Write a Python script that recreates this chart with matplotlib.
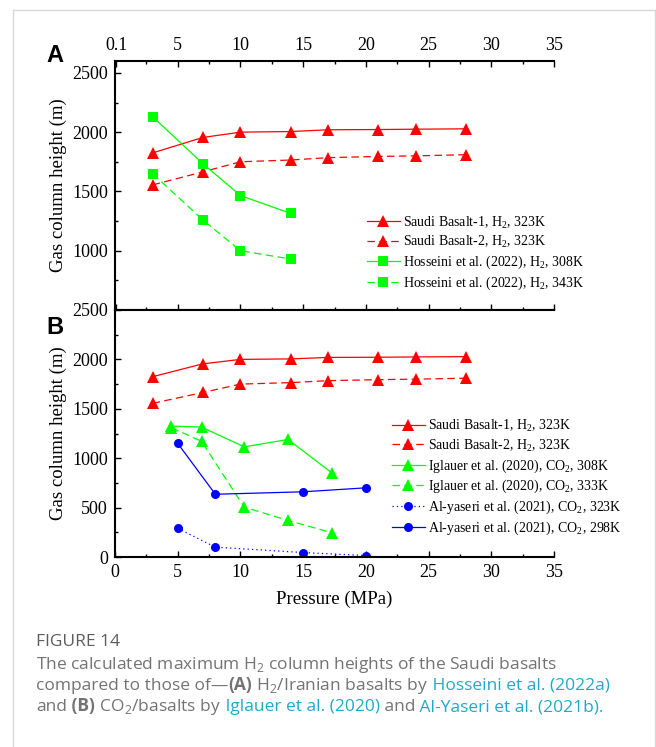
import numpy as np
import matplotlib
matplotlib.use("Agg")
import matplotlib.pyplot as plt
from matplotlib.ticker import MultipleLocator
from matplotlib.lines import Line2D

plt.rcParams['font.family'] = ['Liberation Serif', 'DejaVu Serif']
plt.rcParams['mathtext.fontset'] = 'custom'
plt.rcParams['mathtext.rm'] = 'Liberation Serif'
plt.rcParams['mathtext.sf'] = 'Open Sans'

# data
saudi_p = [3, 7, 10, 14, 17, 21, 24, 28]
saudi1_h = [1825, 1955, 2000, 2005, 2020, 2022, 2025, 2028]
saudi2_h = [1555, 1665, 1750, 1765, 1785, 1795, 1800, 1810]

hoss_p = [3, 7, 10, 14]
hoss308_h = [2130, 1735, 1465, 1315]
hoss343_h = [1650, 1260, 1000, 930]

igl_p = [4.5, 6.9, 10.3, 13.8, 17.3]
igl308_h = [1325, 1315, 1115, 1190, 850]
igl333_h = [1310, 1170, 505, 370, 245]

alyas_p = [5, 8, 15, 20]
alyas323_h = [290, 100, 45, 15]
alyas298_h = [1150, 635, 660, 700]

top_ticks = [0.1, 5, 10, 15, 20, 25, 30, 35]
top_labels = ['0.1', '5', '10', '15', '20', '25', '30', '35']

RED, GREEN, BLUE = '#ff0000', '#00ff00', '#0000ff'
DASH = (0, (6, 3.5))
DOT = (0, (1, 2.5))
lw = 0.9

fig = plt.figure(figsize=(6.56, 7.47), dpi=100)
W, H = 656, 747

def frac(x0, y0, x1, y1):
    return [x0 / W, 1 - y1 / H, (x1 - x0) / W, (y1 - y0) / H]

axA = fig.add_axes(frac(115, 61, 554, 310))
axB = fig.add_axes(frac(115, 310, 554, 557))

def series(ax, x, y, color, ls, marker, ms, label):
    ax.plot(x, y, color=color, linestyle=ls, linewidth=lw, marker=marker,
            markersize=ms, markeredgewidth=0, label=label)

series(axA, saudi_p, saudi1_h, RED, '-', '^', 8, 'Saudi Basalt-1, H$_\\mathrm{2}$, 323K')
series(axA, saudi_p, saudi2_h, RED, DASH, '^', 8, 'Saudi Basalt-2, H$_\\mathrm{2}$, 323K')
series(axA, hoss_p, hoss308_h, GREEN, '-', 's', 6.5, 'Hosseini et al. (2022), H$_\\mathrm{2}$, 308K')
series(axA, hoss_p, hoss343_h, GREEN, DASH, 's', 6.5, 'Hosseini et al. (2022), H$_\\mathrm{2}$, 343K')

series(axB, saudi_p, saudi1_h, RED, '-', '^', 8, 'Saudi Basalt-1, H$_\\mathrm{2}$, 323K')
series(axB, saudi_p, saudi2_h, RED, DASH, '^', 8, 'Saudi Basalt-2, H$_\\mathrm{2}$, 323K')
series(axB, igl_p, igl308_h, GREEN, '-', '^', 8, 'Iglauer et al. (2020), CO$_\\mathrm{2}$, 308K')
series(axB, igl_p, igl333_h, GREEN, DASH, '^', 8, 'Iglauer et al. (2020), CO$_\\mathrm{2}$, 333K')
series(axB, alyas_p, alyas323_h, BLUE, DOT, 'o', 6.5, 'Al-yaseri et al. (2021), CO$_\\mathrm{2}$, 323K')
series(axB, alyas_p, alyas298_h, BLUE, '-', 'o', 6.5, 'Al-yaseri et al. (2021), CO$_\\mathrm{2}$, 298K')

for ax in (axA, axB):
    ax.set_xlim(0, 35)
    for s in ax.spines.values():
        s.set_linewidth(1.5)
    ax.spines['right'].set_visible(False)
    ax.xaxis.set_minor_locator(MultipleLocator(2.5))
    ax.yaxis.set_minor_locator(MultipleLocator(250))
    ax.tick_params(which='both', direction='in', labelsize=13, width=1, right=False)
    ax.tick_params(which='major', length=4, pad=5)
    ax.tick_params(which='minor', length=2)
    ax.set_ylabel('Gas column height (m)', fontsize=13.5, labelpad=4)

axA.set_ylim(500, 2600)
axA.set_yticks([1000, 1500, 2000, 2500])
axA.set_xticks(top_ticks)
axA.set_xticklabels(top_labels)
axA.tick_params(which='both', top=True, bottom=True, labeltop=True, labelbottom=False)

axB.set_ylim(0, 2500)
axB.set_yticks([0, 500, 1000, 1500, 2000, 2500])
axB.xaxis.set_major_locator(MultipleLocator(5))
axB.tick_params(which='both', top=False, bottom=True)
axB.set_xlabel('Pressure (MPa)', fontsize=13.5, labelpad=7)

leg_kw = dict(frameon=False, fontsize=10, handlelength=2.4, handletextpad=0.25,
              labelspacing=0.25, borderpad=0, borderaxespad=0, loc='upper left')
axA.legend(bbox_to_anchor=(0.573, 0.385), **leg_kw)
axB.legend(bbox_to_anchor=(0.630, 0.565), **leg_kw)

fig.text(55 / W, 1 - 55 / H, 'A', family='Liberation Sans', fontweight='bold',
         fontsize=17, ha='center', va='center')
fig.text(55 / W, 1 - 327 / H, 'B', family='Liberation Sans', fontweight='bold',
         fontsize=17, ha='center', va='center')

# card border
bc = '#d8d8d8'
fig.add_artist(Line2D([13 / W, 13 / W], [0, 1 - 10 / H], color=bc, lw=1, transform=fig.transFigure))
fig.add_artist(Line2D([13 / W, 655 / W], [1 - 10 / H, 1 - 10 / H], color=bc, lw=1, transform=fig.transFigure))
fig.add_artist(Line2D([655 / W, 655 / W], [0, 1 - 10 / H], color=bc, lw=1, transform=fig.transFigure))

# caption
GRAY = '#737373'
LINK = '#1fa9c9'
cap_font = ['Open Sans', 'DejaVu Sans']
cap_size = 12.5
renderer = fig.canvas.get_renderer()

def caption_line(y_px, pieces):
    x = 36 / W
    for txt, col, wt in pieces:
        t = fig.text(x, 1 - y_px / H, txt, color=col, fontsize=cap_size,
                     fontweight=wt, family=cap_font, va='baseline', ha='left')
        x += t.get_window_extent(renderer).width / W

caption_line(646, [('FIGURE 14', '#5c5c5c', 'normal')])
caption_line(669, [('The calculated maximum H$_\\mathsf{2}$ column heights of the Saudi basalts', GRAY, 'normal')])
caption_line(690, [('compared to those of\u2014', GRAY, 'normal'), ('(A)', GRAY, 'bold'),
                   (' H$_\\mathsf{2}$/Iranian basalts by', GRAY, 'normal'),
                   (' Hosseini et al. (2022a)', LINK, 'normal')])
caption_line(711, [('and', GRAY, 'normal'), (' (B)', GRAY, 'bold'),
                   (' CO$_\\mathsf{2}$/basalts by', GRAY, 'normal'),
                   (' Iglauer et al. (2020)', LINK, 'normal'), (' and', GRAY, 'normal'),
                   (' Al-Yaseri et al. (2021b).', LINK, 'normal')])

fig.savefig('out.png', dpi=100)
